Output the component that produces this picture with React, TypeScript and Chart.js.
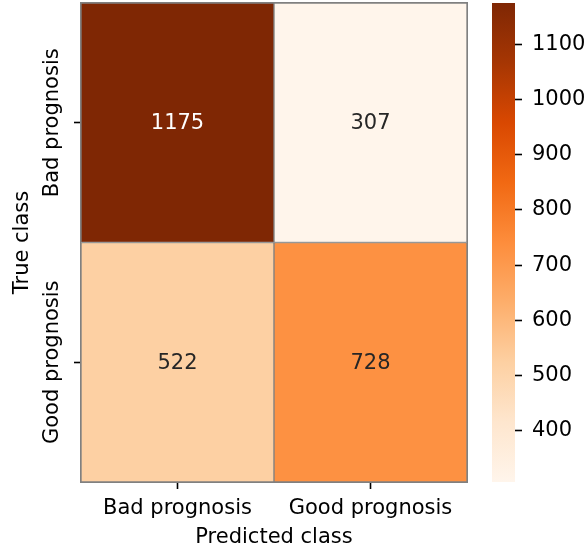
import React, { useEffect, useRef } from 'react';
import { Chart, registerables } from 'chart.js';

Chart.register(...registerables);

// ---- Data ----
const predictedClasses = ['Bad prognosis', 'Good prognosis'];
const trueClasses = ['Bad prognosis', 'Good prognosis'];
const badPrognosisRow = [1175, 307]; // true = Bad prognosis
const goodPrognosisRow = [522, 728]; // true = Good prognosis
const colorbarTicks = [400, 500, 600, 700, 800, 900, 1000, 1100];

const allCounts = [...badPrognosisRow, ...goodPrognosisRow];
const vmin = Math.min(...allCounts);
const vmax = Math.max(...allCounts);

const ORANGES = ['#fff5eb', '#fee6ce', '#fdd0a2', '#fdae6b', '#fd8d3c', '#f16913', '#d94801', '#a63603', '#7f2704'];

function hexToRgb(h: string) {
  const n = parseInt(h.slice(1), 16);
  return [(n >> 16) & 255, (n >> 8) & 255, n & 255];
}
function orangesColor(t: number) {
  const tt = Math.max(0, Math.min(1, t));
  const pos = tt * (ORANGES.length - 1);
  const i = Math.min(Math.floor(pos), ORANGES.length - 2);
  const f = pos - i;
  const a = hexToRgb(ORANGES[i]);
  const b = hexToRgb(ORANGES[i + 1]);
  const c = a.map((v, k) => Math.round(v + (b[k] - v) * f));
  return `rgb(${c[0]},${c[1]},${c[2]})`;
}
function colorFor(v: number) {
  return orangesColor((v - vmin) / (vmax - vmin));
}

const FONT = 'DejaVu Sans';
const FS = 21;
const TEXT = '#000000';

const rowsBottomToTop = [goodPrognosisRow, badPrognosisRow];

const annotationPlugin = {
  id: 'cellAnnotations',
  afterDatasetsDraw(chart: any) {
    const ctx = chart.ctx;
    const a = chart.chartArea;
    ctx.save();
    ctx.strokeStyle = '#808080';
    ctx.lineWidth = 1;
    ctx.strokeRect(a.left - 0.5, a.top - 0.5, a.right - a.left + 1, a.bottom - a.top + 1);
    ctx.font = `${FS}px "${FONT}"`;
    ctx.textAlign = 'center';
    ctx.textBaseline = 'middle';
    chart.data.datasets.forEach((ds: any, di: number) => {
      const meta = chart.getDatasetMeta(di);
      meta.data.forEach((bar: any, i: number) => {
        const { x, y, base } = bar.getProps(['x', 'y', 'base'], true);
        const v = rowsBottomToTop[di][i];
        const t = (v - vmin) / (vmax - vmin);
        ctx.fillStyle = t > 0.6 ? '#ffffff' : '#262626';
        ctx.fillText(String(v), x, (y + base) / 2 + 1);
      });
    });
    ctx.restore();
  },
};

const yLabelPlugin = {
  id: 'yTickLabels',
  afterDraw(chart: any) {
    const ctx = chart.ctx;
    const scale = chart.scales.y;
    ctx.save();
    ctx.font = `${FS}px "${FONT}"`;
    ctx.fillStyle = TEXT;
    ctx.textAlign = 'center';
    ctx.textBaseline = 'middle';
    scale.ticks.forEach((tk: any) => {
      const py = scale.getPixelForValue(tk.value);
      const label = tk.value > 1 ? trueClasses[0] : trueClasses[1];
      ctx.save();
      ctx.translate(53, py);
      ctx.rotate(-Math.PI / 2);
      ctx.fillText(label, 0, 0);
      ctx.restore();
    });
    ctx.restore();
  },
};

export default function App() {
  const mainRef = useRef<HTMLCanvasElement>(null);
  const cbRef = useRef<HTMLCanvasElement>(null);

  useEffect(() => {
    Chart.defaults.font.family = FONT;
    Chart.defaults.font.size = FS;
    Chart.defaults.color = TEXT;

    const cellDs = (row: number[], label: string) => ({
      label,
      data: row.map(() => 1),
      backgroundColor: row.map(colorFor),
      borderColor: '#808080',
      borderWidth: 1,
      borderSkipped: false,
      barPercentage: 1,
      categoryPercentage: 1,
    });

    const main = new Chart(mainRef.current as HTMLCanvasElement, {
      type: 'bar',
      data: {
        labels: predictedClasses,
        datasets: [cellDs(goodPrognosisRow, trueClasses[1]), cellDs(badPrognosisRow, trueClasses[0])] as any,
      },
      options: {
        responsive: false,
        animation: false,
        layout: { padding: { top: 3, right: 3, left: 0, bottom: 0 } },
        plugins: { legend: { display: false }, tooltip: { enabled: false } },
        scales: {
          x: {
            stacked: true,
            grid: { offset: false, drawOnChartArea: false, drawTicks: true, tickLength: 7, tickWidth: 1.6, tickColor: '#000' },
            border: { display: false },
            ticks: { color: TEXT, padding: 7, maxRotation: 0, minRotation: 0, font: { size: FS, family: FONT } },
            title: { display: true, text: 'Predicted class', color: TEXT, font: { size: FS, family: FONT }, padding: { top: 0, bottom: 1 } },
            afterFit: (s: any) => { s.height = 69; },
          },
          y: {
            stacked: true,
            min: 0,
            max: 2,
            afterBuildTicks: (s: any) => { s.ticks = [{ value: 0.5 }, { value: 1.5 }]; },
            ticks: { display: false },
            grid: { drawOnChartArea: false, drawTicks: true, tickLength: 7, tickWidth: 1.6, tickColor: '#000' },
            border: { display: false },
            title: { display: true, text: 'True class', color: TEXT, font: { size: FS, family: FONT }, padding: { top: 10, bottom: 0 } },
            afterFit: (s: any) => { s.width = 81; },
          },
        },
      } as any,
      plugins: [annotationPlugin, yLabelPlugin],
    });

    const cb = new Chart(cbRef.current as HTMLCanvasElement, {
      type: 'bar',
      data: {
        labels: ['count'],
        datasets: [
          {
            data: [[vmin, vmax]] as any,
            backgroundColor: (c: any) => {
              const chart = c.chart;
              const area = chart.chartArea;
              if (!area) return ORANGES[4];
              const ys = chart.scales.y;
              const g = chart.ctx.createLinearGradient(0, ys.getPixelForValue(vmin), 0, ys.getPixelForValue(vmax));
              ORANGES.forEach((col, i) => g.addColorStop(i / (ORANGES.length - 1), col));
              return g;
            },
            borderWidth: 0,
            barPercentage: 1,
            categoryPercentage: 1,
          },
        ],
      },
      options: {
        responsive: false,
        animation: false,
        layout: { padding: { left: 22, top: 3, bottom: 69, right: 0 } },
        plugins: { legend: { display: false }, tooltip: { enabled: false } },
        scales: {
          x: { display: false },
          y: {
            position: 'right',
            min: vmin,
            max: vmax,
            afterBuildTicks: (s: any) => { s.ticks = colorbarTicks.map((v) => ({ value: v })); },
            grid: { drawOnChartArea: false, drawTicks: true, tickLength: 7, tickWidth: 1.6, tickColor: '#000' },
            border: { display: false },
            ticks: { color: TEXT, padding: 10, font: { size: FS, family: FONT }, callback: (v: any) => String(v) },
            afterFit: (s: any) => { s.width = 71; s.paddingTop = 0; s.paddingBottom = 0; },
          },
        },
      } as any,
    });

    return () => {
      main.destroy();
      cb.destroy();
    };
  }, []);

  return (
    <div style={{ position: 'fixed', left: 0, top: 0, width: 586, height: 551, background: '#fff' }}>
      <canvas ref={mainRef} width={470} height={551} style={{ position: 'absolute', left: 0, top: 0, display: 'block' }} />
      <canvas ref={cbRef} width={116} height={551} style={{ position: 'absolute', left: 470, top: 0, display: 'block' }} />
    </div>
  );
}
